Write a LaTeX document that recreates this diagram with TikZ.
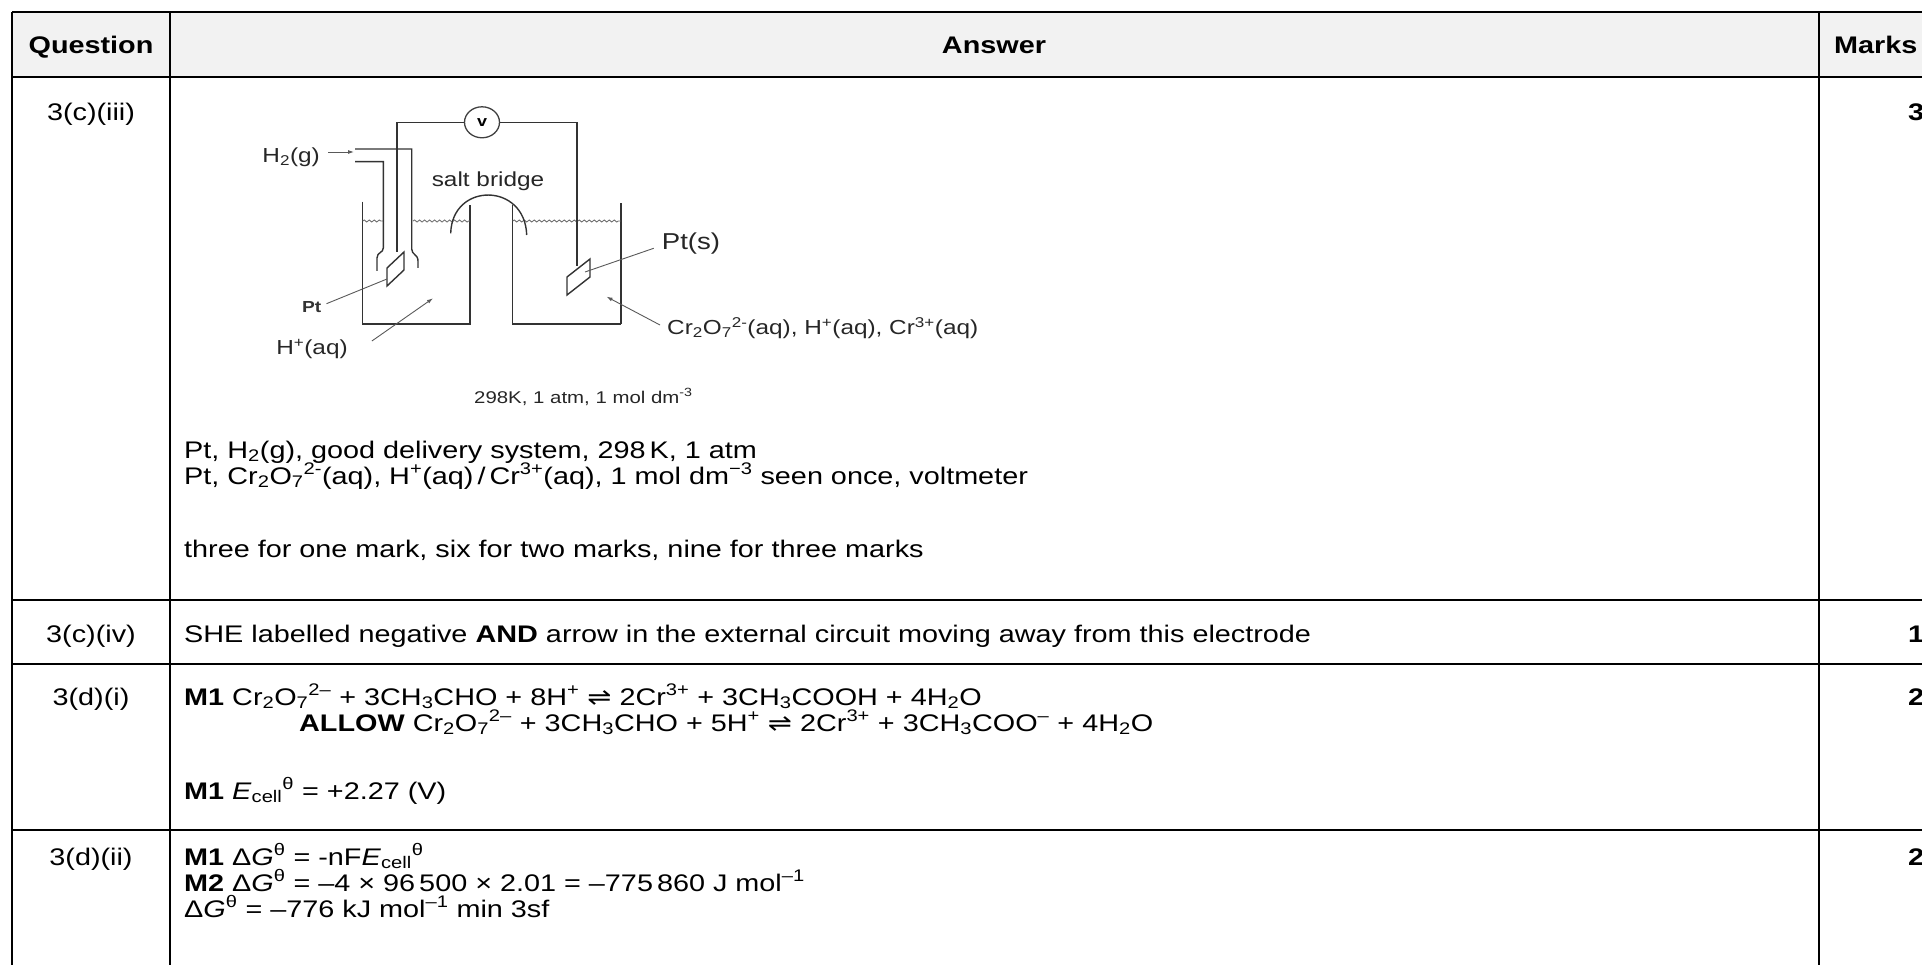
\documentclass[tikz,border=0pt]{standalone}
\usepackage{fontspec}
\setmainfont{Liberation Sans}[FakeStretch=1.2]
\newfontfamily\symfont{DejaVu Sans}[FakeStretch=1.2]
\usepackage{xcolor}
\definecolor{headgrey}{RGB}{242,242,242}
\usetikzlibrary{arrows.meta}
\usetikzlibrary{shapes.geometric}
\usetikzlibrary{decorations.pathmorphing}
\newcommand{\chsub}[1]{\textsubscript{#1}}
\newcommand{\chsup}[1]{\textsuperscript{#1}}
\newcommand{\eqm}{{\symfont ⇌}}
\begin{document}
\begin{tikzpicture}[x=1pt,y=-1pt,
  body/.style={font=\fontsize{24}{26}\selectfont,inner sep=0pt,anchor=base west},
  qtext/.style={font=\fontsize{24}{26}\selectfont,inner sep=0pt,anchor=base},
  headtext/.style={font=\fontsize{24}{26}\selectfont\bfseries,inner sep=0pt,anchor=base},
  marktext/.style={font=\fontsize{24}{26}\selectfont\bfseries,inner sep=0pt,anchor=base west},
  hrule/.style={line width=2.4pt},
  vrule/.style={line width=1.8pt},
  app/.style={line width=1.4pt,black!80},
  leader/.style={line width=0.9pt,black!65},
  lab/.style={font=\fontsize{20.3}{23}\selectfont,inner sep=0pt,text=black!85},
  liquid/.style={line width=0.9pt,black!55,decorate,decoration={snake,amplitude=1pt,segment length=5pt}}]
\useasboundingbox (0,0) rectangle (1922,965);
\fill[headgrey] (12,12) rectangle (1960,77);
\draw[line width=1.4pt] (12,12) -- (1960,12);
\draw[hrule] (12,77) -- (1960,77);
\draw[hrule] (12,600) -- (1960,600);
\draw[hrule] (12,664) -- (1960,664);
\draw[hrule] (12,830) -- (1960,830);
\foreach \x in {12,170,1819}
  \draw[vrule] (\x,12) -- (\x,980);

\node[headtext] (hq) at (91,54) {Question};
\node[headtext] (ha) at (994,54) {Answer};
\node[headtext,anchor=base west] (hm) at (1834,54) {Marks};

\node[qtext] (q1) at (91,121) {3(c)(iii)};
\node[marktext] (m1) at (1908,121) {3};

\draw[app] (362.7,201.7) -- (362.7,324) -- (470,324) -- (470,205);
\draw[app] (512.7,205) -- (512.7,324) -- (620.7,324);
\draw[line width=2.4pt,black!80] (620.7,324) -- (620.7,203);
\draw[liquid] (362.7,221) -- (383.3,221);
\draw[liquid] (413,221) -- (470,221);
\draw[liquid] (512.7,221) -- (620.7,221);
\draw[app] (355,149) -- (411.7,149) -- (411.7,249) .. controls (411.7,255) and (418,254) .. (418,261) -- (418,268);
\draw[app] (355,161.7) -- (383.3,161.7) -- (383.3,248) .. controls (383.3,253) and (377,252) .. (377,258) -- (377,271);
\node[draw=black!75,line width=1.3pt,ellipse,minimum width=35pt,minimum height=31pt,inner sep=0pt,font=\fontsize{15}{15}\selectfont\bfseries] (volt) at (482,122.3) {v};
\coordinate (lwire) at (397,252);
\coordinate (rwire) at (577,266);
\draw[app] (volt.west) -| (lwire);
\draw[app] (volt.east) -- (577,122.3);
\draw[line width=2.4pt,black!80] (577,122.3) -- (rwire);
\draw[app] (387,286) -- (387,268) -- (404,252) -- (404,270) -- cycle;
\draw[app] (567,295) -- (567,277) -- (590,259) -- (590,277) -- cycle;
\draw[app] (450.7,233.3) .. controls (452,182) and (525,182) .. (526.7,235);
\node[lab] (sbridge) at (488,181.7) {salt bridge};

\node[lab,anchor=east] (h2) at (320,157) {H\chsub{2}(g)};
\coordinate (h2tip) at (354,152);
\draw[leader,-{Latex[length=6pt,width=4pt]}] ([xshift=8pt,yshift=5pt]h2.east) -- (h2tip);
\node[font=\fontsize{16}{16}\selectfont\bfseries,inner sep=0pt,text=black!80] (ptl) at (311.7,306.7) {Pt};
\coordinate (lplate) at (387,279);
\draw[leader] ([xshift=5pt,yshift=3pt]ptl.east) -- (lplate);
\node[lab] (hplus) at (312,349) {H\chsup{+}(aq)};
\coordinate (hptip) at (433,298.3);
\draw[leader,-{Latex[length=6pt,width=4pt]}] ([xshift=24pt,yshift=8pt]hplus.east) -- (hptip);
\node[lab,anchor=west,font=\fontsize{23}{26}\selectfont] (pts) at (661.7,243.3) {Pt(s)};
\coordinate (rplate) at (585,272);
\draw[leader] ([xshift=-8pt,yshift=-5pt]pts.west) -- (rplate);
\node[lab,anchor=west] (crl) at (667,328) {Cr\chsub{2}O\chsub{7}\chsup{2-}(aq), H\chsup{+}(aq), Cr\chsup{3+}(aq)};
\coordinate (crtip) at (606.5,296.7);
\draw[leader,-{Latex[length=6pt,width=4pt]}] ([xshift=-7pt,yshift=3pt]crl.west) -- (crtip);
\node[lab,font=\fontsize{17}{20}\selectfont] (cond) at (583.4,397) {298K, 1 atm, 1 mol dm\chsup{-3}};

\node[body] (a1a) at (184,458) {Pt, H\chsub{2}(g), good delivery system, 298\,K, 1 atm};
\node[body] (a1b) at (184,484) {Pt, Cr\chsub{2}O\chsub{7}\chsup{2-}(aq), H\chsup{+}(aq)\,/\,Cr\chsup{3+}(aq), 1 mol dm\chsup{−3} seen once, voltmeter};
\node[body] (a1c) at (184,557) {three for one mark, six for two marks, nine for three marks};

\node[qtext] (q2) at (91,642) {3(c)(iv)};
\node[body] (a2) at (184,642) {SHE labelled negative \textbf{AND} arrow in the external circuit moving away from this electrode};
\node[marktext] (m2) at (1908,642) {1};

\node[qtext] (q3) at (91,705) {3(d)(i)};
\node[body] (a3a) at (184,705) {\textbf{M1} Cr\chsub{2}O\chsub{7}\chsup{2–} + 3CH\chsub{3}CHO + 8H\chsup{+} \eqm{} 2Cr\chsup{3+} + 3CH\chsub{3}COOH + 4H\chsub{2}O};
\node[body] (a3b) at (299,731) {\textbf{ALLOW} Cr\chsub{2}O\chsub{7}\chsup{2–} + 3CH\chsub{3}CHO + 5H\chsup{+} \eqm{} 2Cr\chsup{3+} + 3CH\chsub{3}COO\chsup{–} + 4H\chsub{2}O};
\node[body] (a3c) at (184,799) {\textbf{M1} \textit{E}\chsub{cell}\chsup{θ} = +2.27 (V)};
\node[marktext] (m3) at (1908,705) {2};

\node[qtext] (q4) at (91,865) {3(d)(ii)};
\node[body] (a4a) at (184,865) {\textbf{M1} Δ\textit{G}\chsup{θ} = -nF\textit{E}\chsub{cell}\chsup{θ}};
\node[body] (a4b) at (184,891) {\textbf{M2} Δ\textit{G}\chsup{θ} = –4 × 96\,500 × 2.01 = –775\,860 J mol\chsup{–1}};
\node[body] (a4c) at (184,917) {Δ\textit{G}\chsup{θ} = –776 kJ mol\chsup{–1} min 3sf};
\node[marktext] (m4) at (1908,865) {2};
\end{tikzpicture}
\end{document}
